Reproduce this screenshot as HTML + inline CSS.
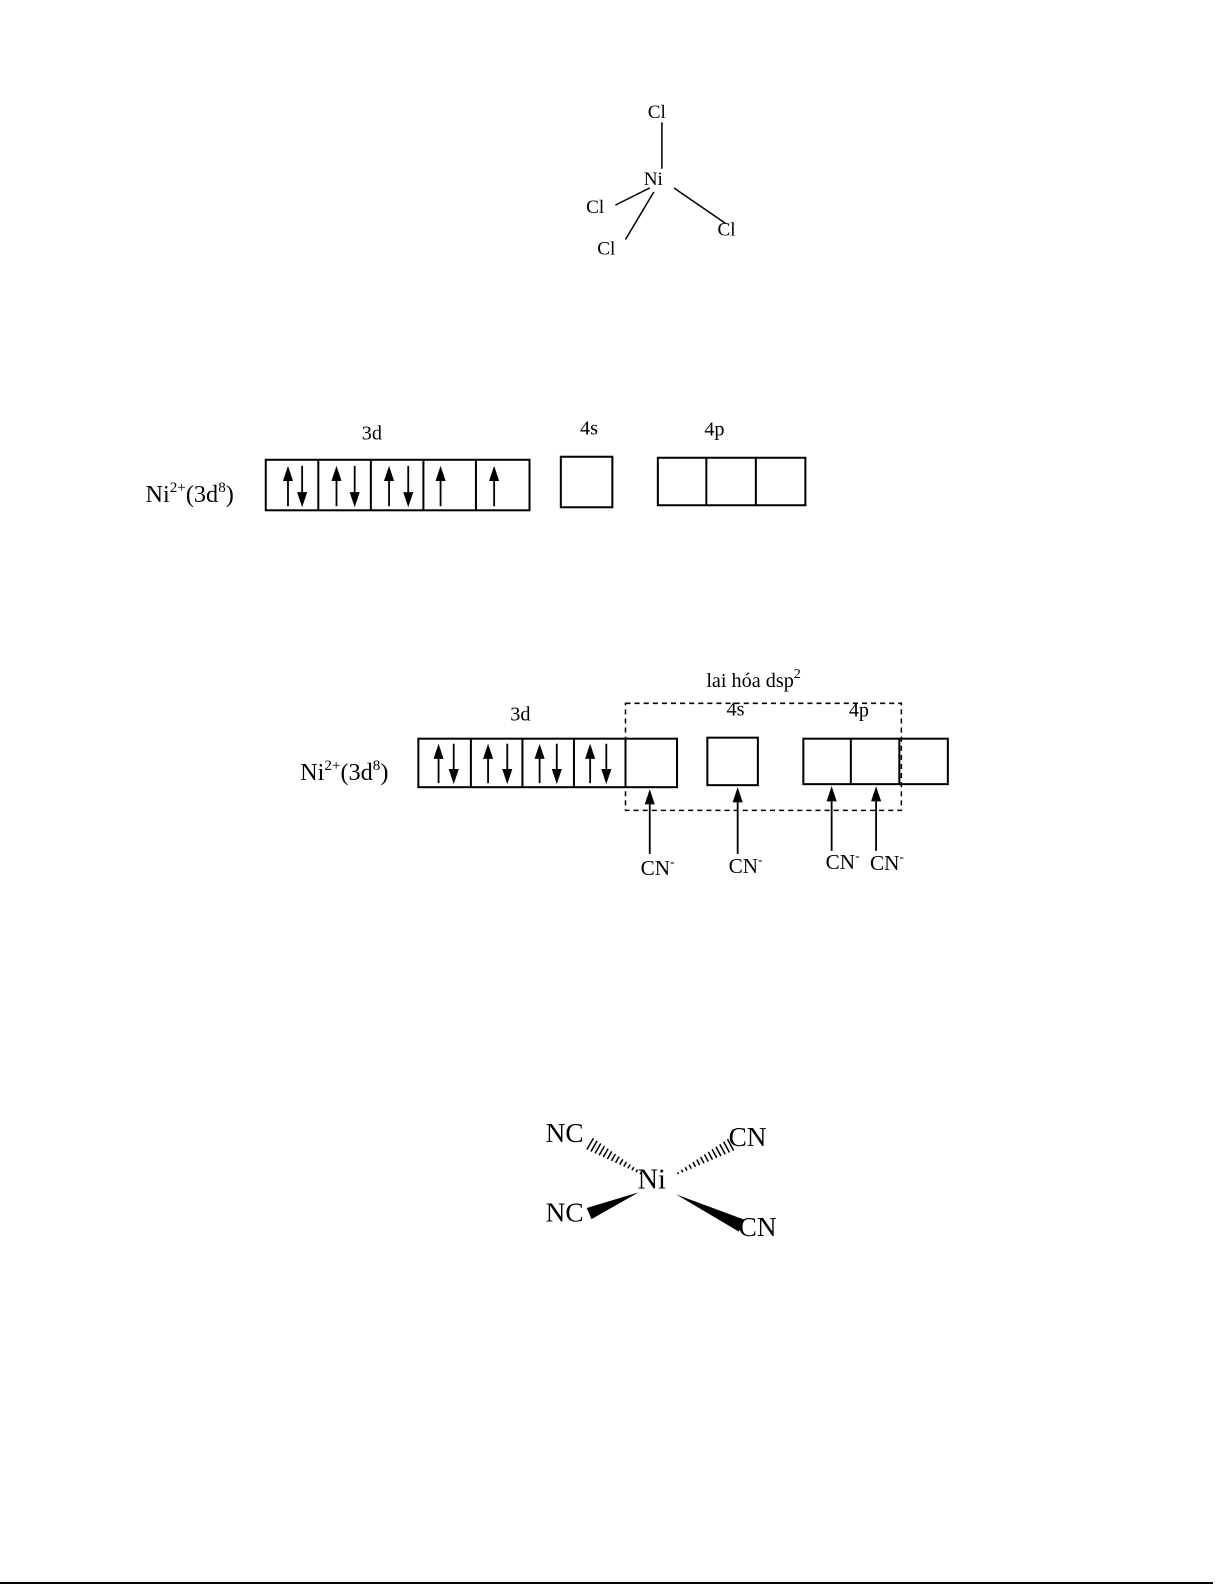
<!DOCTYPE html>
<html><head><meta charset="utf-8"><style>
html,body{margin:0;padding:0;background:#fff;}
svg{display:block;}
text{font-family:"Liberation Serif",serif;fill:#000;}
</style></head><body>
<svg id="s" width="1225" height="1585" viewBox="0 0 1225 1585" xmlns="http://www.w3.org/2000/svg">
<g transform="scale(1.0105)">
<g stroke="#000" stroke-width="1.5" fill="none">
<line x1="655" y1="121" x2="655" y2="167"/>
<line x1="609" y1="203" x2="643" y2="186"/>
<line x1="619" y1="237" x2="647" y2="190"/>
<line x1="667" y1="186" x2="718" y2="221"/>
</g>
<text x="641" y="117" font-size="19">Cl</text>
<text x="637" y="183" font-size="19">Ni</text>
<text x="580" y="211" font-size="19">Cl</text>
<text x="591" y="252" font-size="19">Cl</text>
<text x="710" y="233" font-size="19">Cl</text>

<!-- Row 1 -->
<text x="358" y="435" font-size="20">3d</text>
<text x="574" y="430" font-size="20">4s</text>
<text x="697" y="431" font-size="20">4p</text>
<text x="144" y="497" font-size="24">Ni<tspan font-size="15" dy="-10">2+</tspan><tspan dy="10">(3d</tspan><tspan font-size="15" dy="-10">8</tspan><tspan dy="10">)</tspan></text>
<g stroke="#000" stroke-width="2" fill="none">
<rect x="263" y="455" width="261" height="50"/>
<line x1="315" y1="455" x2="315" y2="505"/><line x1="367" y1="455" x2="367" y2="505"/>
<line x1="419" y1="455" x2="419" y2="505"/><line x1="471" y1="455" x2="471" y2="505"/>
<rect x="555" y="452" width="51" height="50"/>
<rect x="651" y="453" width="146" height="47"/>
<line x1="699" y1="453" x2="699" y2="500"/><line x1="748" y1="453" x2="748" y2="500"/>
</g>
<g id="arrows1"></g>

<!-- Row 2 -->
<text x="699" y="680" font-size="20">lai hóa dsp<tspan font-size="14" dy="-9">2</tspan></text>
<text x="505" y="713" font-size="20">3d</text>
<text x="719" y="708" font-size="20">4s</text>
<text x="840" y="709" font-size="20">4p</text>
<text x="297" y="772" font-size="24">Ni<tspan font-size="15" dy="-10">2+</tspan><tspan dy="10">(3d</tspan><tspan font-size="15" dy="-10">8</tspan><tspan dy="10">)</tspan></text>
<g stroke="#000" stroke-width="2" fill="none">
<rect x="414" y="731" width="256" height="48"/>
<line x1="466" y1="731" x2="466" y2="779"/><line x1="517" y1="731" x2="517" y2="779"/>
<line x1="568" y1="731" x2="568" y2="779"/><line x1="619" y1="731" x2="619" y2="779"/>
<rect x="700" y="730" width="50" height="47"/>
<rect x="795" y="731" width="143" height="45"/>
<line x1="842" y1="731" x2="842" y2="776"/><line x1="890" y1="731" x2="890" y2="776"/>
</g>
<rect x="619" y="696" width="273" height="106" fill="none" stroke="#000" stroke-width="1.5" stroke-dasharray="5,4"/>
<g id="arrows2"></g>
<text x="634" y="866" font-size="21">CN<tspan font-size="13" dy="-9">-</tspan></text>
<text x="721" y="864" font-size="21">CN<tspan font-size="13" dy="-9">-</tspan></text>
<text x="817" y="860" font-size="21">CN<tspan font-size="13" dy="-9">-</tspan></text>
<text x="861" y="861" font-size="21">CN<tspan font-size="13" dy="-9">-</tspan></text>

<!-- Bottom Ni(CN)4 -->
<text x="631" y="1176" font-size="28">Ni</text>
<text x="540" y="1130" font-size="27">NC</text>
<text x="721" y="1134" font-size="27">CN</text>
<text x="540" y="1209" font-size="27">NC</text>
<text x="731" y="1223" font-size="27">CN</text>
<g id="wedges"></g>
</g>
<line x1="0" y1="1583" x2="1213" y2="1583" stroke="#000" stroke-width="2"/>
</svg>
<script>
var NS="http://www.w3.org/2000/svg";
function el(p,n,a){var e=document.createElementNS(NS,n);for(var k in a)e.setAttribute(k,a[k]);p.appendChild(e);return e;}
function arrow(g,x,y1,y2){
  var up=y2<y1, h=15, w=5;
  var yb=up?y2+h:y2-h;
  el(g,"line",{x1:x,y1:y1,x2:x,y2:yb,stroke:"#000","stroke-width":1.8});
  el(g,"polygon",{points:(x-w)+","+yb+" "+(x+w)+","+yb+" "+x+","+y2,fill:"#000"});
}
var g1=document.getElementById("arrows1");
arrow(g1,285,501,461);arrow(g1,299,461,502);
arrow(g1,333,501,461);arrow(g1,351,461,502);
arrow(g1,385,501,461);arrow(g1,404,461,502);
arrow(g1,436,501,461);arrow(g1,489,501,461);
var g2=document.getElementById("arrows2");
arrow(g2,434,775,736);arrow(g2,449,736,776);
arrow(g2,483,775,736);arrow(g2,502,736,776);
arrow(g2,534,775,736);arrow(g2,551,736,776);
arrow(g2,584,775,736);arrow(g2,600,736,776);
arrow(g2,643,845,781);arrow(g2,730,845,779);
arrow(g2,823,842,778);arrow(g2,867,842,778);
var gw=document.getElementById("wedges");
function hash(ax,ay,bx,by,n,w0,w1){
  var dx=bx-ax,dy=by-ay,L=Math.hypot(dx,dy),px=-dy/L,py=dx/L;
  for(var i=0;i<n;i++){var t=i/(n-1),x=ax+dx*t,y=ay+dy*t,w=w0+(w1-w0)*t;
    el(gw,"line",{x1:x-px*w,y1:y-py*w,x2:x+px*w,y2:y+py*w,stroke:"#000","stroke-width":1.5});}
}
function solid(ax,ay,bx,by,w){
  var dx=bx-ax,dy=by-ay,L=Math.hypot(dx,dy),px=-dy/L,py=dx/L;
  el(gw,"polygon",{points:ax+","+ay+" "+(bx+px*w)+","+(by+py*w)+" "+(bx-px*w)+","+(by-py*w),fill:"#000"});
}
hash(634,1161,584,1132,14,1,6.5);
hash(671,1161,723,1133,14,1,6.5);
solid(632,1180,583,1201,6);
solid(669,1182,734,1213,6.5);
</script>
</body></html>
